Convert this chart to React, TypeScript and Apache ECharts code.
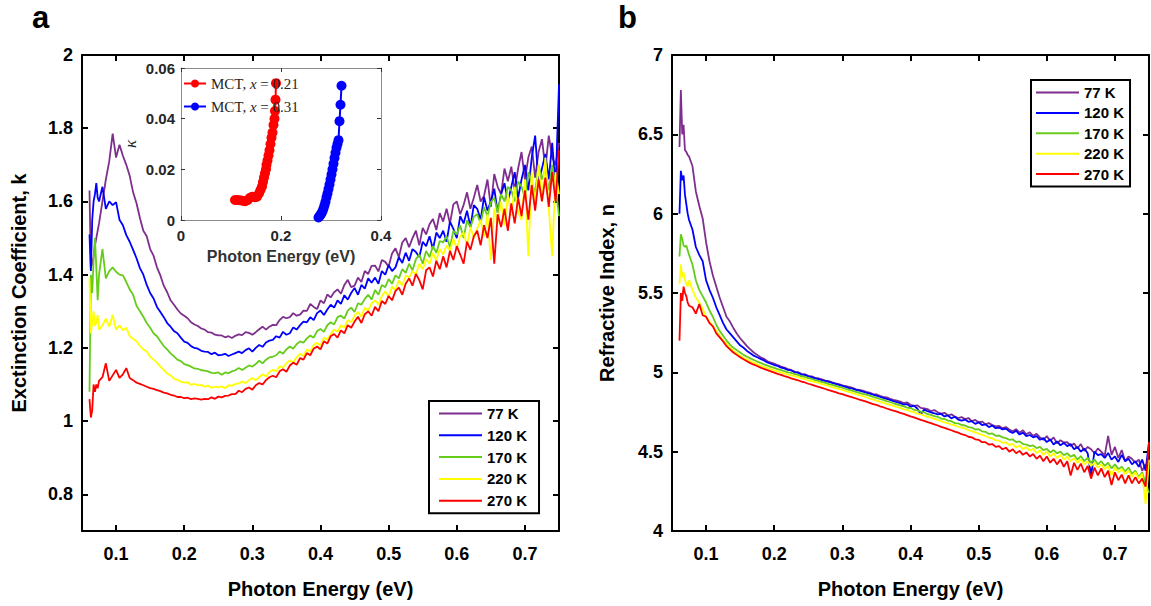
import React, { useEffect, useRef } from "react";
import * as echarts from "echarts";

const FONT = "'Liberation Sans', Arial, Helvetica, sans-serif";
const SERIF = "'Liberation Serif', 'Times New Roman', serif";

const tempNames = ["77 K", "120 K", "170 K", "220 K", "270 K"];
const tempColors = ["#7E2F8E", "#0000FF", "#66CC1A", "#FFFF00", "#FF0000"];

const xTicks = [0.1, 0.2, 0.3, 0.4, 0.5, 0.6, 0.7];
const kTicks = [0.8, 1, 1.2, 1.4, 1.6, 1.8, 2];

const energies = [
  0.061, 0.063, 0.065, 0.067, 0.069, 0.071, 0.073, 0.075,
  0.080, 0.085, 0.090, 0.095, 0.100, 0.105, 0.110, 0.115, 0.120, 0.125,
  0.130, 0.135, 0.140, 0.145, 0.150, 0.155, 0.160, 0.165, 0.170, 0.175,
  0.180, 0.185, 0.190, 0.195, 0.200, 0.205, 0.210, 0.215, 0.220, 0.225,
  0.230, 0.235, 0.240, 0.245, 0.250, 0.255, 0.260, 0.265, 0.270, 0.275,
  0.280, 0.285, 0.290, 0.295, 0.300, 0.305, 0.310, 0.315, 0.320, 0.325,
  0.330, 0.335, 0.340, 0.345, 0.350, 0.355, 0.360, 0.365, 0.370, 0.375,
  0.380, 0.385, 0.390, 0.395, 0.400, 0.405, 0.410, 0.415, 0.420, 0.425,
  0.430, 0.435, 0.440, 0.445, 0.450, 0.455, 0.460, 0.465, 0.470, 0.475,
  0.480, 0.485, 0.490, 0.495, 0.500, 0.505, 0.510, 0.515, 0.520, 0.525,
  0.530, 0.535, 0.540, 0.545, 0.550, 0.555, 0.560, 0.565, 0.570, 0.575,
  0.580, 0.585, 0.590, 0.595, 0.600, 0.605, 0.610, 0.615, 0.620, 0.625,
  0.630, 0.635, 0.640, 0.645, 0.650, 0.655, 0.660, 0.665, 0.670, 0.675,
  0.680, 0.685, 0.690, 0.695, 0.700, 0.705, 0.710, 0.715, 0.720, 0.725,
  0.730, 0.735, 0.740, 0.745, 0.750,
];

// Extinction coefficient k
const k77 = [
  1.63, 1.42, 1.43, 1.45, 1.48, 1.50, 1.52, 1.54,
  1.60, 1.66, 1.71, 1.785, 1.72, 1.755, 1.725, 1.70, 1.67, 1.625,
  1.595, 1.555, 1.52, 1.505, 1.47, 1.452, 1.42, 1.398, 1.37, 1.352,
  1.33, 1.318, 1.305, 1.294, 1.288, 1.281, 1.27, 1.264, 1.26, 1.253,
  1.25, 1.243, 1.242, 1.236, 1.234, 1.234, 1.229, 1.232, 1.227, 1.233,
  1.237, 1.235, 1.243, 1.241, 1.236, 1.243, 1.251, 1.258, 1.25, 1.258,
  1.263, 1.262, 1.276, 1.285, 1.281, 1.284, 1.295, 1.288, 1.291, 1.302,
  1.301, 1.32, 1.312, 1.306, 1.33, 1.322, 1.346, 1.338, 1.352, 1.36,
  1.348, 1.372, 1.386, 1.366, 1.37, 1.392, 1.38, 1.41, 1.402, 1.424,
  1.425, 1.409, 1.44, 1.435, 1.422, 1.458, 1.472, 1.448, 1.488, 1.5,
  1.475, 1.5, 1.52, 1.48, 1.528, 1.51, 1.538, 1.552, 1.522, 1.568,
  1.545, 1.58, 1.54, 1.592, 1.6, 1.565, 1.59, 1.625, 1.58, 1.61,
  1.645, 1.6, 1.615, 1.66, 1.585, 1.675, 1.64, 1.62, 1.69, 1.655,
  1.695, 1.63, 1.69, 1.735, 1.66, 1.72, 1.75, 1.665, 1.735, 1.77,
  1.69, 1.78, 1.72, 1.70, 1.76,
];
const k120 = [
  1.51, 1.41, 1.55, 1.60, 1.62, 1.65, 1.61, 1.60,
  1.64, 1.58, 1.60, 1.59, 1.598, 1.55, 1.535, 1.508, 1.49, 1.468,
  1.445, 1.418, 1.40, 1.372, 1.35, 1.335, 1.312, 1.298, 1.284, 1.268,
  1.258, 1.246, 1.24, 1.228, 1.217, 1.214, 1.205, 1.2, 1.198, 1.192,
  1.19, 1.189, 1.183, 1.187, 1.18, 1.181, 1.184, 1.178, 1.182, 1.186,
  1.19, 1.186, 1.194, 1.199, 1.19, 1.2, 1.208, 1.203, 1.215, 1.22,
  1.222, 1.232, 1.228, 1.244, 1.236, 1.24, 1.256, 1.25, 1.262, 1.272,
  1.27, 1.284, 1.276, 1.295, 1.302, 1.29, 1.305, 1.318, 1.31, 1.33,
  1.32, 1.344, 1.332, 1.35, 1.364, 1.345, 1.372, 1.362, 1.39, 1.378,
  1.392, 1.375, 1.41, 1.4, 1.426, 1.41, 1.42, 1.448, 1.432, 1.46,
  1.438, 1.47, 1.462, 1.448, 1.49, 1.478, 1.505, 1.47, 1.515, 1.5,
  1.52, 1.49, 1.545, 1.525, 1.5, 1.56, 1.54, 1.575, 1.53, 1.59,
  1.58, 1.55, 1.612, 1.575, 1.6, 1.635, 1.57, 1.62, 1.65, 1.6,
  1.64, 1.68, 1.61, 1.66, 1.7, 1.63, 1.72, 1.78, 1.65, 1.69,
  1.73, 1.66, 1.76, 1.64, 1.92,
];
const k170 = [
  1.08, 1.40, 1.35, 1.44, 1.50, 1.42, 1.33, 1.40,
  1.47, 1.39, 1.41, 1.42, 1.408, 1.40, 1.398, 1.38, 1.36, 1.345,
  1.315, 1.30, 1.285, 1.268, 1.255, 1.24, 1.232, 1.218, 1.205, 1.196,
  1.185, 1.177, 1.168, 1.164, 1.156, 1.153, 1.149, 1.144, 1.143, 1.139,
  1.138, 1.136, 1.132, 1.131, 1.133, 1.127, 1.133, 1.131, 1.136, 1.139,
  1.145, 1.14, 1.146, 1.152, 1.149, 1.156, 1.165, 1.158, 1.168, 1.174,
  1.176, 1.18, 1.19, 1.184, 1.196, 1.204, 1.198, 1.21, 1.218, 1.214,
  1.226, 1.234, 1.228, 1.246, 1.252, 1.244, 1.262, 1.27, 1.264, 1.284,
  1.288, 1.28, 1.302, 1.31, 1.298, 1.322, 1.318, 1.334, 1.345, 1.332,
  1.358, 1.345, 1.372, 1.366, 1.388, 1.375, 1.398, 1.39, 1.415, 1.405,
  1.43, 1.412, 1.442, 1.455, 1.43, 1.465, 1.448, 1.478, 1.46, 1.492,
  1.488, 1.505, 1.475, 1.52, 1.51, 1.535, 1.5, 1.548, 1.53, 1.558,
  1.565, 1.54, 1.585, 1.56, 1.598, 1.61, 1.57, 1.62, 1.6, 1.64,
  1.63, 1.6, 1.655, 1.64, 1.61, 1.68, 1.65, 1.625, 1.7, 1.66,
  1.69, 1.63, 1.7, 1.64, 1.56,
];
const k220 = [
  1.39, 1.24, 1.27, 1.30, 1.26, 1.27, 1.29, 1.25,
  1.262, 1.28, 1.258, 1.29, 1.25, 1.262, 1.248, 1.255, 1.232, 1.225,
  1.218, 1.205, 1.196, 1.19, 1.176, 1.168, 1.16, 1.149, 1.14, 1.13,
  1.125, 1.116, 1.113, 1.108, 1.105, 1.106, 1.099, 1.102, 1.098, 1.099,
  1.094, 1.097, 1.091, 1.094, 1.092, 1.095, 1.09, 1.098, 1.097, 1.101,
  1.103, 1.108, 1.104, 1.112, 1.118, 1.112, 1.12, 1.128, 1.122, 1.134,
  1.14, 1.136, 1.15, 1.146, 1.158, 1.166, 1.16, 1.175, 1.184, 1.178,
  1.196, 1.19, 1.208, 1.214, 1.206, 1.228, 1.222, 1.238, 1.25, 1.244,
  1.262, 1.255, 1.276, 1.27, 1.288, 1.298, 1.285, 1.31, 1.302, 1.322,
  1.33, 1.318, 1.342, 1.355, 1.34, 1.368, 1.358, 1.385, 1.37, 1.398,
  1.392, 1.41, 1.4, 1.43, 1.415, 1.442, 1.43, 1.46, 1.438, 1.47,
  1.455, 1.48, 1.465, 1.498, 1.47, 1.505, 1.515, 1.48, 1.53, 1.5,
  1.525, 1.55, 1.505, 1.565, 1.44, 1.58, 1.54, 1.6, 1.535, 1.62,
  1.56, 1.64, 1.57, 1.55, 1.66, 1.45, 1.68, 1.59, 1.7, 1.6,
  1.72, 1.58, 1.45, 1.68, 1.62,
];
const k270 = [
  1.06, 1.01, 1.03, 1.10, 1.08, 1.10, 1.09, 1.11,
  1.12, 1.158, 1.11, 1.125, 1.14, 1.118, 1.128, 1.145, 1.118, 1.112,
  1.105, 1.102, 1.098, 1.094, 1.09, 1.088, 1.085, 1.082, 1.078, 1.076,
  1.072, 1.07, 1.066, 1.066, 1.063, 1.064, 1.06, 1.062, 1.061, 1.059,
  1.061, 1.06, 1.065, 1.061, 1.067, 1.065, 1.069, 1.07, 1.074, 1.074,
  1.083, 1.079, 1.088, 1.092, 1.086, 1.098, 1.104, 1.1, 1.112, 1.12,
  1.124, 1.12, 1.136, 1.142, 1.135, 1.152, 1.16, 1.154, 1.172, 1.168,
  1.186, 1.18, 1.198, 1.204, 1.196, 1.218, 1.212, 1.232, 1.238, 1.228,
  1.248, 1.24, 1.262, 1.255, 1.272, 1.285, 1.268, 1.292, 1.3, 1.288,
  1.312, 1.3, 1.328, 1.32, 1.342, 1.33, 1.355, 1.365, 1.345, 1.375,
  1.39, 1.37, 1.402, 1.385, 1.36, 1.412, 1.42, 1.395, 1.438, 1.415,
  1.45, 1.42, 1.465, 1.44, 1.478, 1.455, 1.43, 1.49, 1.468, 1.505,
  1.52, 1.48, 1.535, 1.5, 1.555, 1.43, 1.565, 1.53, 1.58, 1.52,
  1.595, 1.54, 1.61, 1.56, 1.63, 1.55, 1.645, 1.575, 1.66, 1.6,
  1.665, 1.585, 1.68, 1.6, 1.74,
];

// Refractive index n
const n77 = [
  6.42, 6.78, 6.50, 6.56, 6.40, 6.39, 6.37, 6.36,
  6.30, 6.14, 6.05, 5.97, 5.82, 5.70, 5.61, 5.54, 5.47, 5.41,
  5.35, 5.32, 5.28, 5.245, 5.215, 5.19, 5.165, 5.145, 5.125, 5.11,
  5.095, 5.085, 5.07, 5.062, 5.055, 5.045, 5.036, 5.03, 5.02, 5.015,
  5.005, 5.0, 4.99, 4.988, 4.978, 4.975, 4.965, 4.962, 4.955, 4.948,
  4.945, 4.937, 4.93, 4.926, 4.918, 4.913, 4.908, 4.902, 4.893, 4.89,
  4.885, 4.877, 4.872, 4.863, 4.861, 4.852, 4.846, 4.842, 4.833, 4.827,
  4.822, 4.815, 4.806, 4.81, 4.795, 4.788, 4.792, 4.776, 4.772, 4.768,
  4.755, 4.762, 4.748, 4.74, 4.745, 4.728, 4.735, 4.722, 4.712, 4.718,
  4.705, 4.712, 4.692, 4.7, 4.685, 4.69, 4.672, 4.68, 4.668, 4.66,
  4.662, 4.648, 4.655, 4.64, 4.628, 4.642, 4.62, 4.635, 4.61, 4.622,
  4.6, 4.612, 4.59, 4.575, 4.598, 4.568, 4.59, 4.552, 4.572, 4.558,
  4.56, 4.535, 4.552, 4.52, 4.548, 4.505, 4.53, 4.515, 4.49, 4.52,
  4.5, 4.475, 4.6, 4.48, 4.53, 4.46, 4.51, 4.44, 4.47, 4.455,
  4.43, 4.45, 4.38, 4.42, 4.39,
];
const n120 = [
  6.00, 6.27, 6.21, 6.24, 6.12, 6.06, 6.0, 5.96,
  5.90, 5.79, 5.74, 5.70, 5.58, 5.52, 5.47, 5.41, 5.36, 5.31,
  5.27, 5.245, 5.22, 5.195, 5.17, 5.155, 5.135, 5.12, 5.105, 5.095,
  5.085, 5.075, 5.062, 5.055, 5.046, 5.04, 5.03, 5.025, 5.015, 5.012,
  5.0, 4.998, 4.986, 4.984, 4.975, 4.97, 4.962, 4.958, 4.95, 4.946,
  4.94, 4.933, 4.927, 4.921, 4.915, 4.908, 4.901, 4.897, 4.889, 4.885,
  4.878, 4.872, 4.866, 4.859, 4.853, 4.846, 4.839, 4.833, 4.826, 4.818,
  4.812, 4.806, 4.796, 4.8, 4.782, 4.79, 4.772, 4.735, 4.765, 4.755,
  4.748, 4.742, 4.735, 4.738, 4.722, 4.728, 4.71, 4.72, 4.702, 4.695,
  4.702, 4.688, 4.692, 4.675, 4.685, 4.668, 4.672, 4.655, 4.665, 4.648,
  4.652, 4.64, 4.645, 4.628, 4.618, 4.632, 4.608, 4.62, 4.598, 4.605,
  4.59, 4.598, 4.575, 4.585, 4.56, 4.578, 4.545, 4.565, 4.54, 4.555,
  4.535, 4.548, 4.515, 4.53, 4.5, 4.52, 4.49, 4.35, 4.5, 4.478,
  4.485, 4.46, 4.492, 4.45, 4.47, 4.435, 4.48, 4.44, 4.455, 4.42,
  4.44, 4.405, 4.45, 4.38, 4.56,
];
const n170 = [
  5.73, 5.87, 5.84, 5.80, 5.79, 5.80, 5.77, 5.74,
  5.68, 5.58, 5.52, 5.48, 5.44, 5.39, 5.35, 5.30, 5.26, 5.23,
  5.20, 5.175, 5.155, 5.14, 5.125, 5.11, 5.098, 5.088, 5.078, 5.068,
  5.06, 5.05, 5.042, 5.035, 5.028, 5.02, 5.014, 5.008, 5.0, 4.996,
  4.988, 4.984, 4.975, 4.972, 4.963, 4.958, 4.95, 4.946, 4.938, 4.934,
  4.926, 4.921, 4.915, 4.909, 4.903, 4.895, 4.889, 4.883, 4.877, 4.87,
  4.864, 4.859, 4.853, 4.845, 4.839, 4.833, 4.827, 4.819, 4.813, 4.805,
  4.798, 4.792, 4.786, 4.778, 4.775, 4.764, 4.76, 4.752, 4.748, 4.736,
  4.732, 4.724, 4.72, 4.708, 4.706, 4.696, 4.692, 4.68, 4.678, 4.668,
  4.665, 4.655, 4.652, 4.64, 4.642, 4.628, 4.625, 4.612, 4.615, 4.6,
  4.602, 4.59, 4.585, 4.575, 4.578, 4.56, 4.565, 4.548, 4.545, 4.535,
  4.54, 4.522, 4.53, 4.51, 4.518, 4.495, 4.51, 4.49, 4.5, 4.478,
  4.49, 4.468, 4.48, 4.45, 4.472, 4.44, 4.462, 4.43, 4.45, 4.42,
  4.44, 4.41, 4.43, 4.395, 4.42, 4.39, 4.405, 4.375, 4.4, 4.36,
  4.38, 4.34, 4.37, 4.3, 4.24,
];
const n220 = [
  5.56, 5.68, 5.60, 5.63, 5.58, 5.56, 5.54, 5.58,
  5.52, 5.47, 5.44, 5.40, 5.35, 5.32, 5.29, 5.26, 5.23, 5.20,
  5.18, 5.155, 5.135, 5.12, 5.105, 5.09, 5.08, 5.07, 5.06, 5.05,
  5.04, 5.034, 5.026, 5.02, 5.012, 5.006, 5.0, 4.994, 4.986, 4.982,
  4.974, 4.97, 4.962, 4.958, 4.95, 4.945, 4.938, 4.934, 4.926, 4.92,
  4.914, 4.907, 4.901, 4.895, 4.889, 4.882, 4.876, 4.869, 4.863, 4.856,
  4.85, 4.843, 4.835, 4.83, 4.822, 4.815, 4.809, 4.801, 4.795, 4.788,
  4.782, 4.776, 4.767, 4.763, 4.754, 4.749, 4.74, 4.736, 4.727, 4.721,
  4.714, 4.707, 4.7, 4.693, 4.685, 4.679, 4.671, 4.665, 4.657, 4.651,
  4.645, 4.636, 4.629, 4.621, 4.614, 4.606, 4.599, 4.589, 4.584, 4.573,
  4.57, 4.556, 4.559, 4.541, 4.549, 4.526, 4.539, 4.516, 4.529, 4.506,
  4.52, 4.49, 4.51, 4.48, 4.5, 4.47, 4.49, 4.46, 4.48, 4.45,
  4.47, 4.44, 4.46, 4.43, 4.45, 4.42, 4.44, 4.41, 4.43, 4.4,
  4.42, 4.39, 4.41, 4.35, 4.4, 4.37, 4.39, 4.36, 4.38, 4.34,
  4.37, 4.33, 4.36, 4.17, 4.45,
];
const n270 = [
  5.20, 5.50, 5.45, 5.54, 5.50, 5.48, 5.44, 5.42,
  5.41, 5.37, 5.43, 5.36, 5.35, 5.31, 5.29, 5.245, 5.22, 5.195,
  5.165, 5.145, 5.125, 5.11, 5.095, 5.082, 5.07, 5.058, 5.048, 5.04,
  5.03, 5.022, 5.014, 5.006, 4.998, 4.99, 4.984, 4.976, 4.97, 4.962,
  4.956, 4.95, 4.942, 4.936, 4.928, 4.922, 4.915, 4.908, 4.902, 4.895,
  4.888, 4.882, 4.875, 4.868, 4.862, 4.855, 4.848, 4.842, 4.835, 4.828,
  4.822, 4.815, 4.808, 4.8, 4.795, 4.786, 4.78, 4.772, 4.765, 4.758,
  4.752, 4.744, 4.738, 4.73, 4.722, 4.716, 4.708, 4.7, 4.694, 4.686,
  4.68, 4.672, 4.665, 4.656, 4.65, 4.642, 4.635, 4.626, 4.62, 4.61,
  4.605, 4.594, 4.59, 4.578, 4.575, 4.56, 4.56, 4.545, 4.548, 4.53,
  4.535, 4.515, 4.525, 4.5, 4.515, 4.49, 4.505, 4.48, 4.495, 4.47,
  4.485, 4.455, 4.475, 4.44, 4.47, 4.43, 4.455, 4.42, 4.45, 4.405,
  4.44, 4.35, 4.43, 4.385, 4.425, 4.37, 4.41, 4.33, 4.4, 4.35,
  4.395, 4.34, 4.38, 4.29, 4.37, 4.32, 4.355, 4.3, 4.35, 4.3,
  4.34, 4.3, 4.33, 4.28, 4.56,
];

// Inset: kappa of MCT
const mct21E = [0.108, 0.113, 0.118, 0.123, 0.128, 0.133, 0.138, 0.143, 0.148, 0.152, 0.156, 0.159, 0.162, 0.164, 0.166, 0.168, 0.170, 0.171, 0.173, 0.175, 0.177, 0.179, 0.181, 0.183, 0.185, 0.187, 0.188, 0.189, 0.190];
const mct21K = [0.0079, 0.0079, 0.0078, 0.0076, 0.0074, 0.0078, 0.0088, 0.0092, 0.0090, 0.0092, 0.0105, 0.0118, 0.0132, 0.0150, 0.0168, 0.0185, 0.0200, 0.0218, 0.0235, 0.0255, 0.0275, 0.0300, 0.0325, 0.0345, 0.0375, 0.0400, 0.0430, 0.0475, 0.0540];
const mct31E = [0.275, 0.277, 0.279, 0.281, 0.283, 0.285, 0.287, 0.289, 0.291, 0.293, 0.295, 0.297, 0.299, 0.301, 0.303, 0.305, 0.307, 0.309, 0.311, 0.313, 0.315, 0.317, 0.319, 0.321];
const mct31K = [0.0010, 0.0015, 0.0020, 0.0027, 0.0035, 0.0045, 0.0058, 0.0072, 0.0090, 0.0105, 0.0122, 0.0140, 0.0160, 0.0180, 0.0200, 0.0222, 0.0245, 0.0265, 0.0285, 0.0300, 0.0315, 0.0390, 0.0455, 0.0530];
const insetNames = ["MCT, x = 0.21", "MCT, x = 0.31"];

const kSeries = [k77, k120, k170, k220, k270];
const nSeries = [n77, n120, n170, n220, n270];

const pair = (xs: number[], ys: number[]) => {
  const len = Math.min(xs.length, ys.length);
  const out: number[][] = [];
  for (let i = 0; i < len; i++) out.push([xs[i], ys[i]]);
  return out;
};

const tickLabel = { color: "#000", fontSize: 18, fontWeight: "bold", fontFamily: FONT };
const axisTitle = { color: "#000", fontSize: 20, fontWeight: "bold", fontFamily: FONT };
const boxLine = { show: true, onZero: false, lineStyle: { color: "#000", width: 2 } };

function mainX(grid: number, top: boolean) {
  return {
    type: "value",
    gridIndex: grid,
    position: top ? "top" : "bottom",
    min: 0.05,
    max: 0.75,
    axisLine: boxLine,
    axisTick: { show: true, inside: true, length: 6, customValues: xTicks, lineStyle: { color: "#000", width: 2 } },
    axisLabel: { show: !top, customValues: xTicks, margin: 14, ...tickLabel },
    splitLine: { show: false },
    name: top ? "" : "Photon Energy (eV)",
    nameLocation: "middle",
    nameGap: 48,
    nameTextStyle: axisTitle,
  };
}

function mainY(grid: number, right: boolean, name: string, extra: any) {
  return {
    type: "value",
    gridIndex: grid,
    position: right ? "right" : "left",
    axisLine: boxLine,
    axisTick: { show: true, inside: true, length: 6, lineStyle: { color: "#000", width: 2 }, ...(extra.tick || {}) },
    axisLabel: { show: !right, margin: 9, ...tickLabel, ...(extra.label || {}) },
    splitLine: { show: false },
    name: right ? "" : name,
    nameLocation: "middle",
    nameGap: extra.nameGap,
    nameTextStyle: axisTitle,
    ...extra.range,
  };
}

function insetX(top: boolean) {
  return {
    type: "value",
    gridIndex: 2,
    position: top ? "top" : "bottom",
    min: 0,
    max: 0.4,
    interval: 0.2,
    z: 6,
    axisLine: { show: true, onZero: false, lineStyle: { color: "#8c8c8c", width: 1 } },
    axisTick: { show: true, inside: true, length: 4, lineStyle: { color: "#333", width: 1 } },
    axisLabel: { show: !top, margin: 8, color: "#262626", fontSize: 15, fontWeight: "bold", fontFamily: FONT },
    splitLine: { show: false },
    name: top ? "" : "Photon Energy (eV)",
    nameLocation: "middle",
    nameGap: 28,
    nameTextStyle: { color: "#333", fontSize: 16, fontWeight: "bold", fontFamily: FONT },
  };
}

function insetY(right: boolean) {
  return {
    type: "value",
    gridIndex: 2,
    position: right ? "right" : "left",
    min: 0,
    max: 0.06,
    interval: 0.02,
    z: 6,
    axisLine: { show: true, onZero: false, lineStyle: { color: "#8c8c8c", width: 1 } },
    axisTick: { show: true, inside: true, length: 4, lineStyle: { color: "#333", width: 1 } },
    axisLabel: { show: !right, margin: 6, color: "#262626", fontSize: 15, fontWeight: "bold", fontFamily: FONT },
    splitLine: { show: false },
    name: right ? "" : "κ",
    nameLocation: "middle",
    nameGap: 42,
    nameTextStyle: { color: "#262626", fontSize: 17, fontStyle: "italic", fontFamily: SERIF },
  };
}

export default function App() {
  const ref = useRef<HTMLDivElement>(null);

  useEffect(() => {
    if (!ref.current) return;
    const chart = echarts.init(ref.current, undefined, { renderer: "svg" });

    const series: any[] = [];
    tempNames.forEach((name, i) => {
      series.push({
        type: "line",
        name,
        xAxisIndex: 0,
        yAxisIndex: 0,
        data: pair(energies, kSeries[i]),
        symbol: "none",
        color: tempColors[i],
        lineStyle: { width: 1.8, color: tempColors[i] },
        z: 2,
      });
    });
    tempNames.forEach((name, i) => {
      series.push({
        type: "line",
        name,
        xAxisIndex: 2,
        yAxisIndex: 2,
        data: pair(energies, nSeries[i]),
        symbol: "none",
        color: tempColors[i],
        lineStyle: { width: 1.8, color: tempColors[i] },
        z: 2,
      });
    });
    [
      [mct21E, mct21K, "#FF0000"],
      [mct31E, mct31K, "#0000FF"],
    ].forEach(([xs, ys, c]: any, i) => {
      series.push({
        type: "line",
        name: insetNames[i],
        xAxisIndex: 4,
        yAxisIndex: 4,
        data: pair(xs, ys),
        symbol: "circle",
        symbolSize: 10,
        showSymbol: true,
        color: c,
        itemStyle: { color: c },
        lineStyle: { width: 2, color: c },
        z: 7,
      });
    });

    const legendBase = {
      orient: "vertical",
      data: tempNames,
      icon: "rect",
      backgroundColor: "#fff",
      borderColor: "#000",
      borderWidth: 2,
      itemWidth: 43,
      itemHeight: 2,
      textStyle: { color: "#000", fontSize: 15, fontWeight: "bold", fontFamily: FONT, lineHeight: 14 },
      selectedMode: false,
    };

    const option: any = {
      animation: false,
      backgroundColor: "#fff",
      title: [
        { text: "a", left: 32, top: 2, padding: 0, textStyle: { color: "#000", fontSize: 31, fontWeight: "bold", fontFamily: FONT } },
        { text: "b", left: 618, top: 2, padding: 0, textStyle: { color: "#000", fontSize: 31, fontWeight: "bold", fontFamily: FONT } },
      ],
      grid: [
        { left: 82, top: 55, width: 477, height: 476 },
        { left: 672, top: 55, width: 477, height: 476 },
        { left: 181, top: 68, width: 200, height: 152, show: true, backgroundColor: "#fff", borderWidth: 0, z: 5 },
      ],
      xAxis: [mainX(0, false), mainX(0, true), mainX(1, false), mainX(1, true), insetX(false), insetX(true)],
      yAxis: [
        mainY(0, false, "Exctinction Coefficient, k", {
          range: { min: 0.7, max: 2 },
          tick: { customValues: kTicks },
          label: { customValues: kTicks },
          nameGap: 53,
        }),
        mainY(0, true, "", {
          range: { min: 0.7, max: 2 },
          tick: { customValues: kTicks },
          label: { customValues: kTicks },
          nameGap: 53,
        }),
        mainY(1, false, "Refractive Index, n", { range: { min: 4, max: 7, interval: 0.5 }, nameGap: 55 }),
        mainY(1, true, "", { range: { min: 4, max: 7, interval: 0.5 }, nameGap: 55 }),
        insetY(false),
        insetY(true),
      ],
      legend: [
        { ...legendBase, left: 429, top: 401, itemGap: 6.8, padding: [5, 12, 5, 10] },
        { ...legendBase, left: 1031, top: 80, itemGap: 5.4, padding: [5, 6, 5, 5] },
        {
          orient: "vertical",
          data: insetNames,
          left: 183,
          top: 76,
          z: 8,
          itemWidth: 22,
          itemHeight: 10,
          itemGap: 8,
          padding: 0,
          selectedMode: false,
          formatter: (name: string) => {
            const parts = name.split("x");
            return `{r|${parts[0]}}{i|x}{r|${parts[1]}}`;
          },
          textStyle: {
            color: "#262626",
            fontSize: 15,
            fontFamily: SERIF,
            rich: {
              r: { fontSize: 15, fontFamily: SERIF, color: "#262626" },
              i: { fontSize: 15, fontFamily: SERIF, fontStyle: "italic", color: "#262626" },
            },
          },
        },
      ],
      series,
    };

    chart.setOption(option);
    return () => chart.dispose();
  }, []);

  return (
    <div
      ref={ref}
      style={{ position: "absolute", left: 0, top: 0, width: 1151, height: 606, background: "#fff" }}
    />
  );
}
